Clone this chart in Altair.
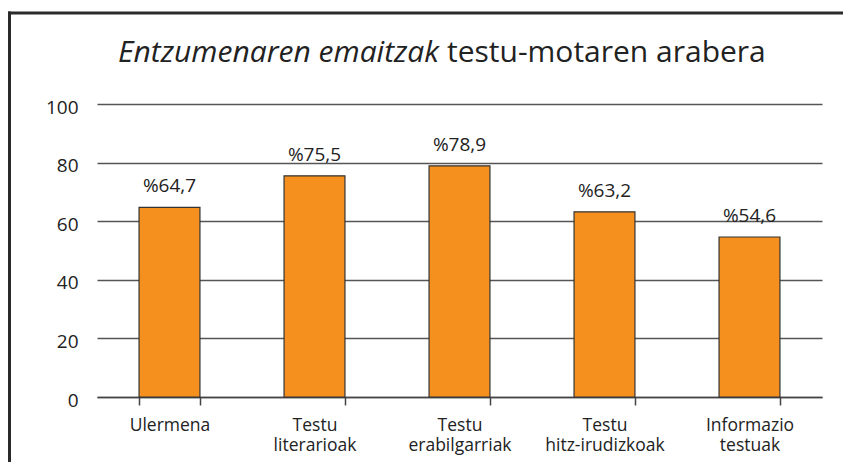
import altair as alt
import pandas as pd

categories = ["Ulermena", "Testu|literarioak", "Testu|erabilgarriak", "Testu|hitz-irudizkoak", "Informazio|testuak"]
values = [64.7, 75.5, 78.9, 63.2, 54.6]
title_italic = "Entzumenaren emaitzak"
title_normal = "testu-motaren arabera"

df = pd.DataFrame({"cat": categories, "val": values})
df["lbl"] = ["%" + f"{v:.1f}".replace(".", ",") for v in values]

FONT = "Open Sans"
W, H = 725, 293
PL, PT = 89, 96

x = alt.X("cat:N", sort=categories, title=None,
          scale=alt.Scale(paddingInner=0.58, paddingOuter=0.29),
          axis=alt.Axis(labelAngle=0, labelExpr="split(datum.label, '|')",
                        labelFont=FONT, labelFontSize=17.5, labelColor="#222",
                        labelPadding=11, labelLineHeight=20, labelBaseline="top",
                        tickBand="extent", tickSize=8, tickColor="#444", tickWidth=1.5,
                        domainColor="#444", domainWidth=1.5, grid=False))
y = alt.Y("val:Q", title=None,
          scale=alt.Scale(domain=[0, 100]),
          axis=alt.Axis(values=[0, 20, 40, 60, 80, 100], domain=False, ticks=False,
                        labelFont=FONT, labelFontSize=19, labelColor="#222",
                        labelPadding=19, labelOffset=3, gridColor="#555", gridWidth=1.5))

bars = alt.Chart(df).mark_bar(color="#F5901F", stroke="#333", strokeWidth=1.2).encode(x=x, y=y)
texts = alt.Chart(df).mark_text(font=FONT, fontSize=19, color="#222", baseline="alphabetic", dy=-15).encode(
    x=alt.X("cat:N", sort=categories), y="val:Q", text="lbl:N")

tdf = pd.DataFrame({"a": [title_italic], "b": [title_normal]})
t1 = alt.Chart(tdf).mark_text(font=FONT, fontSize=30, fontStyle="italic", align="right",
                              baseline="middle", color="#222").encode(
    x=alt.value(342), y=alt.value(-51), text="a:N")
t2 = alt.Chart(tdf).mark_text(font=FONT, fontSize=30, align="left", dx=8,
                              baseline="middle", color="#222").encode(
    x=alt.value(342), y=alt.value(-51), text="b:N")
top_line = alt.Chart(tdf).mark_rule(color="#2a2a2a", strokeWidth=3, clip=False).encode(
    x=alt.value(-PL), x2=alt.value(760), y=alt.value(-91))
left_line = alt.Chart(tdf).mark_rule(color="#2a2a2a", strokeWidth=3, clip=False).encode(
    x=alt.value(-PL + 1.5), y=alt.value(-92.5), y2=alt.value(400))

chart = alt.layer(top_line, left_line, bars, texts, t1, t2).properties(
    width=W, height=H,
    autosize=alt.AutoSizeParams(type="none"),
    padding={"left": PL, "top": PT, "right": 21, "bottom": 65},
).configure_view(stroke=None)

chart.save("out.html", embed_options={"renderer": "svg", "actions": False})
